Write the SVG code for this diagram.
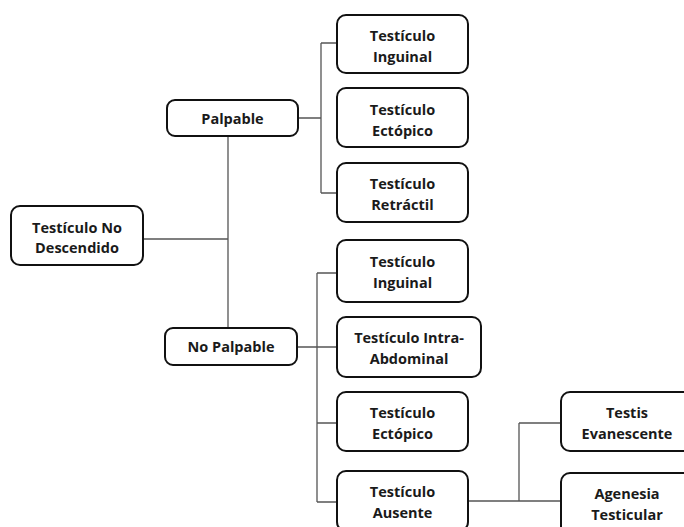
<svg xmlns="http://www.w3.org/2000/svg" width="684" height="527" viewBox="0 0 684 527">
<style>
.box{fill:#fff;stroke:#111;stroke-width:2}
.t{font-family:"Open Sans",sans-serif;font-weight:bold;font-size:14.5px;fill:#1a1a1a;text-anchor:middle}
.c{fill:none;stroke:#555;stroke-width:1.3}
</style>
<rect width="684" height="527" fill="#fff"/>
<g id="connectors">
<path class="c" d="M143 239H228M228 136V328M298 118H321M321 43V193M321 43H337M321 193H337"/>
<path class="c" d="M297 347H337M317 273V502M317 273H337M317 423H337M317 502H337"/>
<path class="c" d="M468 501H561M519 423V501M519 423H561"/>
</g>
<g id="n-root"><rect class="box" x="11" y="206" width="132" height="59" rx="9"/><text class="t" x="77" y="233">Testículo No</text><text class="t" x="77" y="253">Descendido</text></g>
<g id="n-palpable"><rect class="box" x="167" y="100" width="131" height="36" rx="8"/><text class="t" x="232.5" y="123.5">Palpable</text></g>
<g id="n-nopalpable"><rect class="box" x="165" y="328" width="132" height="37" rx="8"/><text class="t" x="231" y="352">No Palpable</text></g>
<g id="n-p-inguinal"><rect class="box" x="337" y="15" width="131" height="58" rx="9"/><text class="t" x="402.5" y="41">Testículo</text><text class="t" x="402.5" y="62">Inguinal</text></g>
<g id="n-p-ectopico"><rect class="box" x="337" y="88" width="131" height="59" rx="9"/><text class="t" x="402.5" y="115">Testículo</text><text class="t" x="402.5" y="136">Ectópico</text></g>
<g id="n-p-retractil"><rect class="box" x="337" y="163" width="131" height="59" rx="9"/><text class="t" x="402.5" y="189">Testículo</text><text class="t" x="402.5" y="210">Retráctil</text></g>
<g id="n-np-inguinal"><rect class="box" x="337" y="240" width="131" height="62" rx="9"/><text class="t" x="402.5" y="267">Testículo</text><text class="t" x="402.5" y="288">Inguinal</text></g>
<g id="n-np-intra"><rect class="box" x="337" y="317" width="144" height="60" rx="9"/><text class="t" x="409" y="343">Testículo Intra-</text><text class="t" x="409" y="364">Abdominal</text></g>
<g id="n-np-ectopico"><rect class="box" x="337" y="392" width="131" height="59" rx="9"/><text class="t" x="402.5" y="418">Testículo</text><text class="t" x="402.5" y="439">Ectópico</text></g>
<g id="n-np-ausente"><rect class="box" x="337" y="471" width="131" height="60" rx="9"/><text class="t" x="402.5" y="497">Testículo</text><text class="t" x="402.5" y="518">Ausente</text></g>
<g id="n-testis"><rect class="box" x="561" y="392" width="134" height="59" rx="9"/><text class="t" x="627" y="418">Testis</text><text class="t" x="627" y="439">Evanescente</text></g>
<g id="n-agenesia"><rect class="box" x="561" y="473" width="134" height="62" rx="9"/><text class="t" x="627" y="499">Agenesia</text><text class="t" x="627" y="520">Testicular</text></g>
</svg>
